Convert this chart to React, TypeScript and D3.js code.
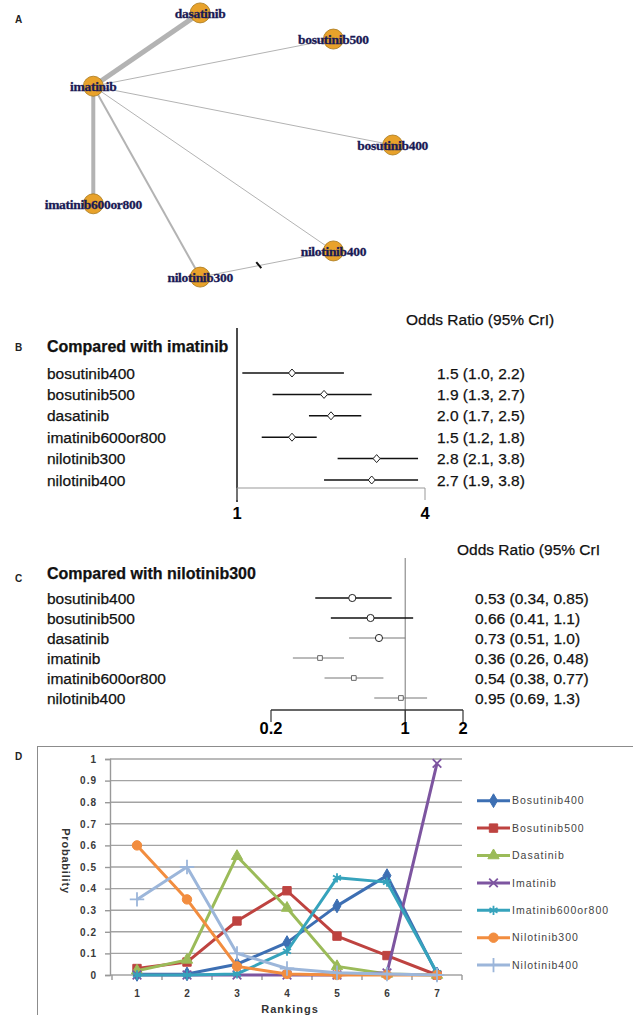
import React, { useEffect, useRef } from "react";
import * as d3 from "d3";

// panel A: treatment network, nodes in circular order
const nodeNames = [
  "bosutinib400",
  "nilotinib400",
  "nilotinib300",
  "imatinib600or800",
  "imatinib",
  "dasatinib",
  "bosutinib500",
];
const edgeSource = ["imatinib", "imatinib", "imatinib", "imatinib", "imatinib", "imatinib", "nilotinib300"];
const edgeTarget = ["dasatinib", "imatinib600or800", "nilotinib300", "nilotinib400", "bosutinib500", "bosutinib400", "nilotinib400"];
const edgeWeight = [5, 4, 2, 1, 1, 1, 1];

// panel B: compared with imatinib
const bLabels = ["bosutinib400", "bosutinib500", "dasatinib", "imatinib600or800", "nilotinib300", "nilotinib400"];
const bOR = [1.5, 1.9, 2.0, 1.5, 2.8, 2.7];
const bLo = [1.04, 1.3, 1.7, 1.2, 2.1, 1.9];
const bHi = [2.2, 2.7, 2.5, 1.8, 3.8, 3.8];
const bTicks = [1, 4];

// panel C: compared with nilotinib300
const cLabels = ["bosutinib400", "bosutinib500", "dasatinib", "imatinib", "imatinib600or800", "nilotinib400"];
const cOR = [0.53, 0.66, 0.73, 0.36, 0.54, 0.95];
const cLo = [0.34, 0.41, 0.51, 0.26, 0.38, 0.69];
const cHi = [0.85, 1.1, 1.0, 0.48, 0.77, 1.3];
const cTicks = [0.2, 1, 2];

// panel D: ranking probabilities
const rankings = [1, 2, 3, 4, 5, 6, 7];
const yTicks = [0, 0.1, 0.2, 0.3, 0.4, 0.5, 0.6, 0.7, 0.8, 0.9, 1];
const seriesNames = ["Bosutinib400", "Bosutinib500", "Dasatinib", "Imatinib", "Imatinib600or800", "Nilotinib300", "Nilotinib400"];
const bosutinib400 = [0.003, 0.005, 0.05, 0.15, 0.32, 0.46, 0.005];
const bosutinib500 = [0.03, 0.06, 0.25, 0.39, 0.18, 0.09, 0.0];
const dasatinib = [0.02, 0.07, 0.55, 0.31, 0.04, 0.005, 0.0];
const imatinib = [0, 0, 0, 0, 0, 0.01, 0.98];
const imatinib600or800 = [0, 0, 0.005, 0.11, 0.45, 0.43, 0.01];
const nilotinib300 = [0.6, 0.35, 0.04, 0.005, 0, 0, 0];
const nilotinib400 = [0.35, 0.5, 0.1, 0.03, 0.01, 0.005, 0];
const seriesValues = [bosutinib400, bosutinib500, dasatinib, imatinib, imatinib600or800, nilotinib300, nilotinib400];

const colors = ["#3D6FB3", "#BE4340", "#9BBB59", "#7D55A0", "#36A3BC", "#F28D3F", "#9CB6DA"];
const symbols = [
  d3.symbolDiamond,
  d3.symbolSquare,
  d3.symbolTriangle,
  d3.symbolTimes,
  d3.symbolAsterisk,
  d3.symbolCircle,
  d3.symbolPlus,
];
const strokeSymbol = [false, false, false, true, true, false, true];
const symbolSize = [55, 70, 55, 50, 60, 70, 70];

const sans = "'Liberation Sans', Arial, sans-serif";
const serif = "'Liberation Serif', 'Times New Roman', serif";

const App: React.FC = () => {
  const svgRef = useRef<SVGSVGElement | null>(null);

  useEffect(() => {
    const svg = d3.select(svgRef.current);
    svg.selectAll("*").remove();

    // panel letters
    const letters: [string, number][] = [["A", 23], ["B", 351], ["C", 582], ["D", 760]];
    svg
      .selectAll(".letter")
      .data(letters)
      .join("text")
      .attr("class", "letter")
      .attr("x", 15)
      .attr("y", (d) => d[1])
      .attr("font-family", sans)
      .attr("font-weight", "bold")
      .attr("font-size", 10)
      .attr("fill", "#222")
      .text((d) => d[0]);

    // ---------- A ----------
    const gA = svg.append("g");
    const angle = d3.scaleLinear().domain([0, nodeNames.length]).range([0, 2 * Math.PI]);
    const pos = new Map<string, [number, number]>(
      nodeNames.map((n, i) => [n, [235.2 + 157.5 * Math.cos(angle(i)), 145 + 135.5 * Math.sin(angle(i))]]),
    );
    const edgeW = d3.scaleLinear().domain([1, 5]).range([1, 5]);
    const edges = edgeSource.map((s, i) => ({ s, t: edgeTarget[i], w: edgeWeight[i] }));
    gA.selectAll("line.edge")
      .data(edges)
      .join("line")
      .attr("class", "edge")
      .attr("x1", (d) => pos.get(d.s)![0])
      .attr("y1", (d) => pos.get(d.s)![1])
      .attr("x2", (d) => pos.get(d.t)![0])
      .attr("y2", (d) => pos.get(d.t)![1])
      .attr("stroke", "#b3b3b3")
      .attr("stroke-width", (d) => edgeW(d.w));

    const p0 = pos.get("nilotinib300")!;
    const p1 = pos.get("nilotinib400")!;
    const mx = p0[0] + (p1[0] - p0[0]) * 0.44;
    const my = p0[1] + (p1[1] - p0[1]) * 0.44;
    gA.append("line")
      .attr("x1", mx - 2.5)
      .attr("y1", my - 3.5)
      .attr("x2", mx + 2.5)
      .attr("y2", my + 2.5)
      .attr("stroke", "#111")
      .attr("stroke-width", 2);

    gA.selectAll("circle")
      .data(nodeNames)
      .join("circle")
      .attr("cx", (d) => pos.get(d)![0])
      .attr("cy", (d) => pos.get(d)![1])
      .attr("r", 10)
      .attr("fill", "#E8A22B")
      .attr("stroke", "#A87718")
      .attr("stroke-width", 0.8);

    gA.selectAll("text")
      .data(nodeNames)
      .join("text")
      .attr("x", (d) => pos.get(d)![0])
      .attr("y", (d) => pos.get(d)![1])
      .attr("dy", "0.35em")
      .attr("text-anchor", "middle")
      .attr("font-family", serif)
      .attr("font-weight", "bold")
      .attr("font-size", 13.5)
      .attr("letter-spacing", -0.3)
      .attr("fill", "#1a1a55")
      .attr("stroke", "#1a1a55")
      .attr("stroke-width", 0.3)
      .text((d) => d);

    // ---------- forest plots ----------
    const fmt = d3.format(".2r");
    const forest = (
      labels: string[],
      or: number[],
      lo: number[],
      hi: number[],
      ticks: number[],
      opts: {
        x: d3.ScaleLogarithmic<number, number>;
        rowTop: number;
        rowBottom: number;
        header: string;
        headerY: number;
        orTitle: string;
        orTitleX: number;
        orTitleY: number;
        valueX: number;
        refTop: number;
        refBottom: number;
        axisY: number;
        tickBottom: number;
        tickLabelY: number;
        panel: "B" | "C";
      },
    ) => {
      const g = svg.append("g");
      const y = d3.scalePoint().domain(labels).range([opts.rowTop, opts.rowBottom]);
      const x = opts.x;
      const isB = opts.panel === "B";
      const txt = (s: d3.Selection<any, any, any, any>, size: number) =>
        s
          .attr("font-family", sans)
          .attr("font-size", size)
          .attr("fill", "#111")
          .attr("stroke", "#111")
          .attr("stroke-width", 0.25);

      g.append("text")
        .attr("x", 47)
        .attr("y", opts.headerY)
        .call((s) => txt(s, 16))
        .attr("font-weight", "bold")
        .text(opts.header);

      g.append("text")
        .attr("x", opts.orTitleX)
        .attr("y", opts.orTitleY)
        .call((s) => txt(s, 15.5))
        .text(opts.orTitle);

      g.selectAll(".lab")
        .data(labels)
        .join("text")
        .attr("class", "lab")
        .attr("x", 47)
        .attr("y", (d) => y(d)!)
        .attr("dy", "0.36em")
        .call((s) => txt(s, 15.5))
        .text((d) => d);

      g.selectAll(".val")
        .data(labels)
        .join("text")
        .attr("class", "val")
        .attr("x", opts.valueX)
        .attr("y", (d) => y(d)!)
        .attr("dy", "0.36em")
        .call((s) => txt(s, 15.5))
        .text((_, i) => `${fmt(or[i])} (${fmt(lo[i])}, ${fmt(hi[i])})`);

      // reference line at OR = 1
      g.append("line")
        .attr("x1", x(1))
        .attr("x2", x(1))
        .attr("y1", opts.refTop)
        .attr("y2", opts.refBottom)
        .attr("stroke", isB ? "#111" : "#777")
        .attr("stroke-width", isB ? 1.5 : 1);

      // axis
      const [d0, d1] = x.domain();
      g.append("line")
        .attr("x1", x(d0))
        .attr("x2", x(d1))
        .attr("y1", opts.axisY)
        .attr("y2", opts.axisY)
        .attr("stroke", isB ? "#999" : "#333")
        .attr("stroke-width", isB ? 1 : 1.4);
      g.selectAll(".tk")
        .data(ticks)
        .join("line")
        .attr("class", "tk")
        .attr("x1", (d) => x(d))
        .attr("x2", (d) => x(d))
        .attr("y1", opts.axisY)
        .attr("y2", opts.tickBottom)
        .attr("stroke", isB ? "#999" : "#333")
        .attr("stroke-width", isB ? 1 : 1.2);
      g.selectAll(".tl")
        .data(ticks)
        .join("text")
        .attr("class", "tl")
        .attr("x", (d) => x(d))
        .attr("y", opts.tickLabelY)
        .attr("text-anchor", "middle")
        .attr("font-family", sans)
        .attr("font-weight", "bold")
        .attr("font-size", 16.5)
        .text((d) => String(d));

      // intervals
      g.selectAll(".ci")
        .data(labels)
        .join("line")
        .attr("class", "ci")
        .attr("x1", (_, i) => x(lo[i]))
        .attr("x2", (_, i) => x(hi[i]))
        .attr("y1", (d) => y(d)!)
        .attr("y2", (d) => y(d)!)
        .attr("stroke", (_, i) => (isB || i < 2 ? "#111" : "#777"))
        .attr("stroke-width", (_, i) => (isB || i < 2 ? 1.5 : 1));

      // point markers
      g.selectAll(".pt")
        .data(labels)
        .join("path")
        .attr("class", "pt")
        .attr("d", (d, i) => {
          const cx = x(or[i]);
          const cy = y(d)!;
          if (isB) return `M${cx},${cy - 4}L${cx + 3.5},${cy}L${cx},${cy + 4}L${cx - 3.5},${cy}Z`;
          if (i < 3) return d3.symbol(d3.symbolCircle, 40)()!;
          return d3.symbol(d3.symbolSquare, 22)()!;
        })
        .attr("transform", (d, i) => (isB ? null : `translate(${x(or[i])},${y(d)})`))
        .attr("fill", "#fff")
        .attr("stroke", (_, i) => (isB || i < 3 ? "#222" : "#666"))
        .attr("stroke-width", 1);
    };

    forest(bLabels, bOR, bLo, bHi, bTicks, {
      x: d3.scaleLog().domain([1, 4]).range([237, 425]),
      rowTop: 373,
      rowBottom: 480,
      header: "Compared with imatinib",
      headerY: 352,
      orTitle: "Odds Ratio (95% CrI)",
      orTitleX: 406,
      orTitleY: 325,
      valueX: 437,
      refTop: 328,
      refBottom: 502,
      axisY: 488,
      tickBottom: 500,
      tickLabelY: 519,
      panel: "B",
    });

    forest(cLabels, cOR, cLo, cHi, cTicks, {
      x: d3.scaleLog().domain([0.2, 2]).range([271, 463]),
      rowTop: 598,
      rowBottom: 698,
      header: "Compared with nilotinib300",
      headerY: 579,
      orTitle: "Odds Ratio (95% CrI",
      orTitleX: 457,
      orTitleY: 555,
      valueX: 475,
      refTop: 558,
      refBottom: 722,
      axisY: 710,
      tickBottom: 722,
      tickLabelY: 734,
      panel: "C",
    });

    // ---------- D ----------
    const gD = svg.append("g");
    gD.append("rect")
      .attr("x", 37.5)
      .attr("y", 746.5)
      .attr("width", 640)
      .attr("height", 320)
      .attr("fill", "none")
      .attr("stroke", "#8c8c8c")
      .attr("stroke-width", 1);

    const xD = d3.scaleBand<string>().domain(rankings.map(String)).range([112, 462]);
    const yD = d3.scaleLinear().domain([0, 1]).range([975, 759]);
    const xc = (r: number) => xD(String(r))! + xD.bandwidth() / 2;

    gD.selectAll(".grid")
      .data(yTicks)
      .join("line")
      .attr("class", "grid")
      .attr("x1", 110)
      .attr("x2", 462)
      .attr("y1", (d) => yD(d))
      .attr("y2", (d) => yD(d))
      .attr("stroke", "#a3a3a3")
      .attr("stroke-width", 1.4);

    gD.append("g")
      .attr("transform", "translate(110,0)")
      .call(d3.axisLeft(yD).tickValues(yTicks).tickSize(5).tickPadding(8).tickFormat((d) => String(d)))
      .call((a) => a.select(".domain").attr("stroke", "#999").attr("stroke-width", 1.4))
      .call((a) => a.selectAll(".tick line").attr("stroke", "#999").attr("stroke-width", 1.4))
      .call((a) =>
        a
          .selectAll(".tick text")
          .attr("font-family", sans)
          .attr("font-weight", "bold")
          .attr("font-size", 10)
          .attr("letter-spacing", 1)
          .attr("fill", "#3a3a3a"),
      );

    const edgesX = [...rankings.map((r) => xD(String(r))!), xD.range()[1]];
    gD.selectAll(".xt")
      .data(edgesX)
      .join("line")
      .attr("class", "xt")
      .attr("x1", (d) => d)
      .attr("x2", (d) => d)
      .attr("y1", yD(0))
      .attr("y2", yD(0) + 5)
      .attr("stroke", "#999")
      .attr("stroke-width", 1.4);

    gD.selectAll(".xl")
      .data(rankings)
      .join("text")
      .attr("class", "xl")
      .attr("x", (d) => xc(d))
      .attr("y", 997)
      .attr("text-anchor", "middle")
      .attr("font-family", sans)
      .attr("font-weight", "bold")
      .attr("font-size", 10)
      .attr("fill", "#3a3a3a")
      .text((d) => String(d));

    gD.append("text")
      .attr("x", 290)
      .attr("y", 1013)
      .attr("text-anchor", "middle")
      .attr("font-family", sans)
      .attr("font-weight", "bold")
      .attr("font-size", 11)
      .attr("letter-spacing", 1)
      .attr("fill", "#333")
      .text("Rankings");

    gD.append("text")
      .attr("transform", "translate(62,861) rotate(90)")
      .attr("text-anchor", "middle")
      .attr("font-family", sans)
      .attr("font-weight", "bold")
      .attr("font-size", 11)
      .attr("letter-spacing", 0.8)
      .attr("fill", "#333")
      .text("Probability");

    const line = d3
      .line<number>()
      .x((_, i) => xc(rankings[i]))
      .y((d) => yD(d));

    const drawMarker = (sel: d3.Selection<any, any, any, any>, k: number) => {
      const sym = d3.symbol(symbols[k], symbolSize[k]);
      sel
        .attr("d", sym()!)
        .attr("fill", strokeSymbol[k] ? "none" : colors[k])
        .attr("stroke", colors[k])
        .attr("stroke-width", strokeSymbol[k] ? 1.8 : 1);
    };

    seriesValues.forEach((vals, k) => {
      const gs = gD.append("g");
      gs.append("path")
        .attr("d", line(vals)!)
        .attr("fill", "none")
        .attr("stroke", colors[k])
        .attr("stroke-width", 3)
        .attr("stroke-linejoin", "round");
      gs.selectAll("path.m")
        .data(vals)
        .join("path")
        .attr("class", "m")
        .attr("transform", (d, i) => `translate(${xc(rankings[i])},${yD(d)})`)
        .call((s) => drawMarker(s, k));
    });

    // legend
    const leg = gD
      .selectAll(".leg")
      .data(seriesNames)
      .join("g")
      .attr("class", "leg")
      .attr("transform", (_, i) => `translate(477,${800.7 + i * 27.4})`);
    leg
      .append("line")
      .attr("x1", 0)
      .attr("x2", 33)
      .attr("stroke", (_, i) => colors[i])
      .attr("stroke-width", 3);
    leg.each(function (_, i) {
      d3.select(this)
        .append("path")
        .attr("transform", "translate(16.5,0)")
        .call((s) => drawMarker(s, i));
    });
    leg
      .append("text")
      .attr("x", 35)
      .attr("dy", "0.36em")
      .attr("font-family", sans)
      .attr("font-size", 10.5)
      .attr("letter-spacing", 1)
      .attr("fill", "#444")
      .text((d) => d);
  }, []);

  return (
    <svg
      ref={svgRef}
      width={633}
      height={1015}
      style={{ position: "absolute", left: 0, top: 0, background: "#fff", display: "block" }}
    />
  );
};

export default App;
